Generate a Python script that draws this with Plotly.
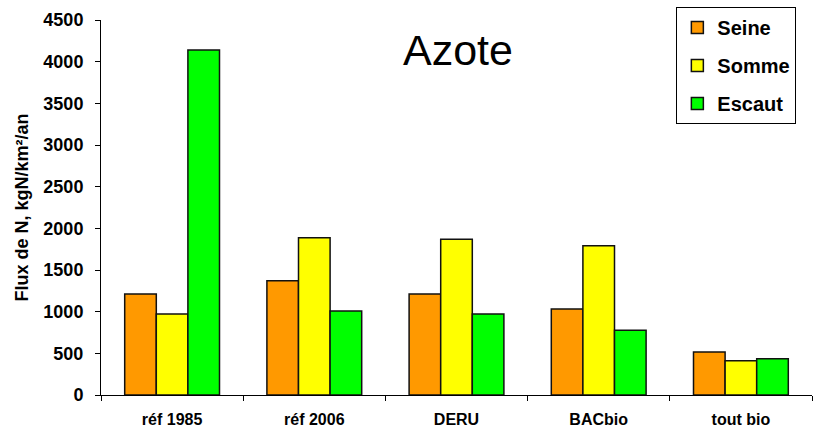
import plotly.graph_objects as go

# Nitrogen flux per scenario and river basin (kgN/km²/an)
scenarios = ["réf 1985", "réf 2006", "DERU", "BACbio", "tout bio"]
seine = [1212, 1372, 1212, 1032, 516]
somme = [972, 1888, 1868, 1792, 412]
escaut = [4140, 1008, 972, 776, 436]

series = [
    ("Seine", seine, "#FF9900"),
    ("Somme", somme, "#FFFF00"),
    ("Escaut", escaut, "#00FF00"),
]

FONT = "Liberation Sans, Arial, sans-serif"

fig = go.Figure()
for name, vals, color in series:
    fig.add_trace(go.Bar(
        x=scenarios, y=vals, name=name, legendgroup=name,
        marker=dict(color=color, line=dict(color="#111111", width=1.5)),
    ))

fig.update_layout(
    width=815, height=429,
    margin=dict(l=101, r=3, t=20, b=34),
    paper_bgcolor="white", plot_bgcolor="white",
    barmode="group", bargap=1/3, bargroupgap=0,
    font=dict(family=FONT, color="black"),
    showlegend=True,
    legend=dict(
        x=0.978, y=1.035, xanchor="right", yanchor="top",
        bgcolor="white", bordercolor="black", borderwidth=1,
        font=dict(family=FONT, size=20, color="black", weight="bold"),
        tracegroupgap=9,
    ),
    annotations=[dict(
        text="Azote", x=0.502, y=0.92, xref="paper", yref="paper",
        xanchor="center", yanchor="middle",
        showarrow=False, font=dict(family=FONT, size=43, color="black"),
    )],
)

fig.update_yaxes(
    range=[0, 4500], dtick=500, showgrid=False, zeroline=False,
    showline=True, linecolor="black", linewidth=1, automargin=False,
    ticks="outside", ticklen=5, tickcolor="black", ticklabelstandoff=8,
    tickfont=dict(family=FONT, size=18, weight="bold"),
    title=dict(text="Flux de N, kgN/km²/an", standoff=10,
               font=dict(family=FONT, size=18, weight="bold")),
)
fig.update_xaxes(
    showgrid=False, showline=True, linecolor="black", linewidth=1,
    automargin=False,
    ticks="outside", ticklen=5, tickcolor="black", tickson="boundaries",
    ticklabelstandoff=10,
    tickfont=dict(family=FONT, size=16, weight="bold"),
)

fig.write_html("out.html")
